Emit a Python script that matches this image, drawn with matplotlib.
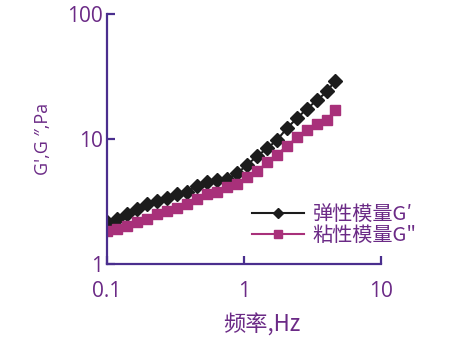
import matplotlib
matplotlib.use('Agg')
import matplotlib.pyplot as plt

plt.rcParams['font.family'] = ['Open Sans', 'Noto Sans CJK SC', 'DejaVu Sans']

# frequency, Hz
freq = [0.1, 0.118, 0.14, 0.166, 0.196, 0.232, 0.274, 0.325, 0.384, 0.455,
        0.538, 0.636, 0.753, 0.891, 1.05, 1.25, 1.47, 1.74, 2.06, 2.44,
        2.89, 3.42, 4.04, 4.6]
# storage modulus G', Pa
g_storage = [2.15, 2.3, 2.5, 2.75, 3.0, 3.2, 3.35, 3.6, 3.8, 4.2,
             4.55, 4.7, 4.8, 5.3, 6.2, 7.3, 8.4, 9.8, 12.2, 14.7,
             17.5, 20.5, 24.0, 29.0]
# loss modulus G", Pa
g_loss = [1.85, 1.92, 2.02, 2.15, 2.3, 2.5, 2.65, 2.8, 3.0, 3.3,
          3.6, 3.8, 4.1, 4.4, 5.0, 5.5, 6.5, 7.5, 8.8, 10.3,
          11.7, 13.3, 14.2, 17.0]

purple = '#6b2a86'
spine_c = '#4a2e8e'
magenta = '#a8307a'
cjk = ['Noto Sans CJK SC', 'DejaVu Sans']

fig = plt.figure(figsize=(4.72, 3.40), dpi=100)
ax = fig.add_axes([107/472, 1 - 264/340, (381 - 107)/472, (264 - 14)/340])

ax.plot(freq, g_storage, color='#1c1c1c', marker='D', markersize=7.5,
        linewidth=1.5, label='弹性模量G′')
ax.plot(freq, g_loss, color=magenta, marker='s', markersize=7.5,
        linewidth=1.5, label='粘性模量G"')

ax.set_xscale('log')
ax.set_yscale('log')
ax.set_xlim(0.1, 10)
ax.set_ylim(1, 100)
ax.set_xticks([0.1, 1, 10])
ax.set_xticklabels(['0.1', '1', '10'])
ax.set_yticks([1, 10, 100])
ax.set_yticklabels(['1', '10', '100'])
ax.minorticks_off()

for s in ['top', 'right']:
    ax.spines[s].set_visible(False)
for s in ['left', 'bottom']:
    ax.spines[s].set_color(spine_c)
    ax.spines[s].set_linewidth(1.6)
    ax.spines[s].set_clip_on(False)

ax.tick_params(axis='both', direction='in', length=6, width=1.6,
               color=spine_c, labelcolor=purple, labelsize=15)
ax.tick_params(axis='x', pad=12)
ax.tick_params(axis='y', pad=3)

ax.set_xlabel('频率,Hz', color=purple, fontsize=16, family=cjk)
ax.xaxis.set_label_coords(0.566, -0.2)
ax.set_ylabel('G\',G ″,Pa', color=purple, fontsize=13)
ax.yaxis.set_label_coords(-0.2, 0.5)

leg = ax.legend(loc='lower left', bbox_to_anchor=(0.50, 0.04), frameon=False,
                prop={'family': cjk, 'size': 14.5},
                handlelength=2.6, handletextpad=0.4, labelspacing=0.0,
                markerscale=0.7, borderaxespad=0)
for t in leg.get_texts():
    t.set_color(purple)

fig.savefig('out.png', dpi=100)
